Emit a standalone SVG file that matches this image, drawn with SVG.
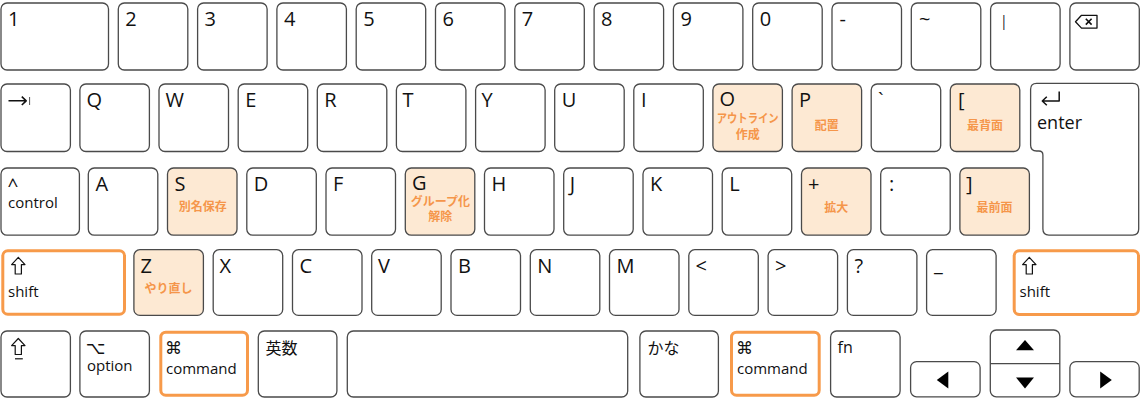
<svg xmlns="http://www.w3.org/2000/svg" width="1141" height="400" viewBox="0 0 1141 400">
<style>
.k{fill:#fff;stroke:#4a4a4a;stroke-width:1.3}
.hl{fill:#fde9d3}
.ol{fill:#fff;stroke:#f79a4a;stroke-width:3}
.t{font-family:"Open Sans","Liberation Sans",sans-serif;font-size:20px;fill:#111}
.s{font-size:15px}
.e{font-size:18px}
.sym{font-family:"DejaVu Sans",sans-serif;font-size:17px;fill:#111}
.jp{font-family:"Noto Sans CJK JP",sans-serif;font-size:16px;fill:#111}
.j{font-family:"Noto Sans CJK JP",sans-serif;font-size:12px;font-weight:700;fill:#f5964a;text-anchor:middle}
.ic{fill:none;stroke:#111;stroke-width:1.4;stroke-linejoin:round}
.ar{fill:#fff;stroke:#111;stroke-width:1.2;stroke-linejoin:round}
.tri{fill:#000}
</style>
<rect width="1141" height="400" fill="#fff"/>
<g id="connectors"/>
<!-- Row 1 -->
<g id="key-1"><rect class="k" x="1" y="3" width="107.5" height="67" rx="6"/><text class="t" x="8" y="25.5">1</text></g>
<g id="key-2"><rect class="k" x="118.3" y="3" width="69.5" height="67" rx="6"/><text class="t" x="125.3" y="25.5">2</text></g>
<g id="key-3"><rect class="k" x="197.6" y="3" width="69.5" height="67" rx="6"/><text class="t" x="204.6" y="25.5">3</text></g>
<g id="key-4"><rect class="k" x="276.9" y="3" width="69.5" height="67" rx="6"/><text class="t" x="283.9" y="25.5">4</text></g>
<g id="key-5"><rect class="k" x="356.2" y="3" width="69.5" height="67" rx="6"/><text class="t" x="363.2" y="25.5">5</text></g>
<g id="key-6"><rect class="k" x="435.5" y="3" width="69.5" height="67" rx="6"/><text class="t" x="442.5" y="25.5">6</text></g>
<g id="key-7"><rect class="k" x="514.8" y="3" width="69.5" height="67" rx="6"/><text class="t" x="521.8" y="25.5">7</text></g>
<g id="key-8"><rect class="k" x="594.1" y="3" width="69.5" height="67" rx="6"/><text class="t" x="601.1" y="25.5">8</text></g>
<g id="key-9"><rect class="k" x="673.4" y="3" width="69.5" height="67" rx="6"/><text class="t" x="680.4" y="25.5">9</text></g>
<g id="key-0"><rect class="k" x="752.7" y="3" width="69.5" height="67" rx="6"/><text class="t" x="759.7" y="25.5">0</text></g>
<g id="key-minus"><rect class="k" x="832" y="3" width="69.5" height="67" rx="6"/><text class="t" x="839.5" y="25.5">-</text></g>
<g id="key-tilde"><rect class="k" x="911.3" y="3" width="69.5" height="67" rx="6"/><text class="t" x="919" y="25.5">~</text></g>
<g id="key-bar"><rect class="k" x="990.6" y="3" width="69.5" height="67" rx="6"/><text class="t" x="1000" y="26" style="font-size:14px;fill:#222">|</text></g>
<g id="key-backspace"><rect class="k" x="1069.9" y="3" width="69.4" height="67" rx="6"/>
<path class="ic" style="stroke-width:1.3" d="M1075.5,21.7 L1081.5,15.3 H1097 V28.1 H1081.5 Z"/>
<path class="ic" style="stroke-width:1.6" d="M1085.8,18.8 L1091.6,24.6 M1091.6,18.8 L1085.8,24.6"/></g>
<!-- Row 2 -->
<g id="key-tab"><rect class="k" x="1" y="84" width="69.4" height="67.5" rx="6"/>
<path class="ic" style="stroke-width:1.6" d="M8.5,100.8 H26 M21.8,96.6 L26.2,100.8 L21.8,105"/>
<path class="ic" style="stroke-width:1;stroke:#555" d="M29.6,97 V105"/></g>
<g id="key-q"><rect class="k" x="79.9" y="84" width="69.5" height="67.5" rx="6"/><text class="t" x="86.5" y="106.5">Q</text></g>
<g id="key-w"><rect class="k" x="159" y="84" width="69.5" height="67.5" rx="6"/><text class="t" x="165.5" y="106.5">W</text></g>
<g id="key-e"><rect class="k" x="238.2" y="84" width="69.5" height="67.5" rx="6"/><text class="t" x="245.2" y="106.5">E</text></g>
<g id="key-r"><rect class="k" x="317.3" y="84" width="69.5" height="67.5" rx="6"/><text class="t" x="324.3" y="106.5">R</text></g>
<g id="key-t"><rect class="k" x="396.4" y="84" width="69.5" height="67.5" rx="6"/><text class="t" x="402.4" y="106.5">T</text></g>
<g id="key-y"><rect class="k" x="475.6" y="84" width="69.5" height="67.5" rx="6"/><text class="t" x="481.6" y="106.5">Y</text></g>
<g id="key-u"><rect class="k" x="554.7" y="84" width="69.5" height="67.5" rx="6"/><text class="t" x="561.7" y="106.5">U</text></g>
<g id="key-i"><rect class="k" x="633.8" y="84" width="69.5" height="67.5" rx="6"/><text class="t" x="641" y="106.5">I</text></g>
<g id="key-o"><rect class="k hl" x="712.9" y="84" width="69.5" height="67.5" rx="6"/><text class="t" x="719.5" y="106">O</text>
<text class="j" x="747.7" y="123" textLength="62" lengthAdjust="spacingAndGlyphs">アウトライン</text><text class="j" x="747.7" y="138.5">作成</text></g>
<g id="key-p"><rect class="k hl" x="792.1" y="84" width="69.5" height="67.5" rx="6"/><text class="t" x="799.1" y="106.5">P</text>
<text class="j" x="826.8" y="130">配置</text></g>
<g id="key-grave"><rect class="k" x="871.2" y="84" width="69.5" height="67.5" rx="6"/><text class="t" x="878" y="106.5">`</text></g>
<g id="key-lbracket"><rect class="k hl" x="950.3" y="84" width="69.5" height="67.5" rx="6"/><text class="t" x="958" y="106.5">[</text>
<text class="j" x="985" y="130">最背面</text></g>
<g id="key-enter"><path class="k" d="M1036.6,83.3 H1132.7 Q1138.7,83.3 1138.7,89.3 V229.1 Q1138.7,235.1 1132.7,235.1 H1048.9 Q1042.9,235.1 1042.9,229.1 V155 Q1042.9,151 1038.9,151 H1036.6 Q1030.6,151 1030.6,145 V89.3 Q1030.6,83.3 1036.6,83.3 Z"/>
<path class="ic" style="stroke-width:1.5" d="M1059.2,91.5 V101 H1042.5 M1046.8,96.7 L1042.3,101 L1046.8,105.3"/>
<text class="t e" x="1037" y="128.5">enter</text></g>
<!-- Row 3 -->
<g id="key-control"><rect class="k" x="1" y="168" width="78.4" height="67.2" rx="6"/><text class="t" x="7.5" y="192" style="font-size:19px">^</text><text class="t s" x="8" y="208">control</text></g>
<g id="key-a"><rect class="k" x="88.3" y="168" width="69.5" height="67.2" rx="6"/><text class="t" x="95.5" y="190.5">A</text></g>
<g id="key-s"><rect class="k hl" x="167.5" y="168" width="69.5" height="67.2" rx="6"/><text class="t" x="174.5" y="190.5">S</text>
<text class="j" x="202.8" y="211">別名保存</text></g>
<g id="key-d"><rect class="k" x="246.8" y="168" width="69.5" height="67.2" rx="6"/><text class="t" x="253.8" y="190.5">D</text></g>
<g id="key-f"><rect class="k" x="326" y="168" width="69.5" height="67.2" rx="6"/><text class="t" x="333" y="190.5">F</text></g>
<g id="key-g"><rect class="k hl" x="405.3" y="168" width="69.5" height="67.2" rx="6"/><text class="t" x="412" y="190">G</text>
<text class="j" x="440.3" y="205.5">グループ化</text><text class="j" x="440.3" y="221">解除</text></g>
<g id="key-h"><rect class="k" x="484.5" y="168" width="69.5" height="67.2" rx="6"/><text class="t" x="491.5" y="190.5">H</text></g>
<g id="key-j"><rect class="k" x="563.7" y="168" width="69.5" height="67.2" rx="6"/><text class="t" x="569.7" y="190.5">J</text></g>
<g id="key-k"><rect class="k" x="643" y="168" width="69.5" height="67.2" rx="6"/><text class="t" x="650" y="190.5">K</text></g>
<g id="key-l"><rect class="k" x="722.2" y="168" width="69.5" height="67.2" rx="6"/><text class="t" x="729.2" y="190.5">L</text></g>
<g id="key-plus"><rect class="k hl" x="801.5" y="168" width="69.5" height="67.2" rx="6"/><text class="t" x="808" y="190.5">+</text>
<text class="j" x="836.3" y="212">拡大</text></g>
<g id="key-colon"><rect class="k" x="880.7" y="168" width="69.5" height="67.2" rx="6"/><text class="t" x="889" y="190.5">:</text></g>
<g id="key-rbracket"><rect class="k hl" x="959.9" y="168" width="69.5" height="67.2" rx="6"/><text class="t" x="966" y="190.5">]</text>
<text class="j" x="994.6" y="212">最前面</text></g>
<!-- Row 4 -->
<g id="key-shift-left"><rect class="ol" x="2.8" y="250.8" width="121.7" height="63.4" rx="5"/>
<path class="ar" d="M18.3,257.3 L25,264.6 H21.4 V274 H15.2 V264.6 H11.6 Z"/>
<text class="t s" x="8" y="296.5">shift</text></g>
<g id="key-z"><rect class="k hl" x="133.9" y="249.7" width="69.5" height="65.7" rx="6"/><text class="t" x="140.5" y="272.5">Z</text>
<text class="j" x="168.6" y="293">やり直し</text></g>
<g id="key-x"><rect class="k" x="213.2" y="249.7" width="69.5" height="65.7" rx="6"/><text class="t" x="219.5" y="272.5">X</text></g>
<g id="key-c"><rect class="k" x="292.5" y="249.7" width="69.5" height="65.7" rx="6"/><text class="t" x="299.5" y="272.5">C</text></g>
<g id="key-v"><rect class="k" x="371.7" y="249.7" width="69.5" height="65.7" rx="6"/><text class="t" x="378" y="272.5">V</text></g>
<g id="key-b"><rect class="k" x="451" y="249.7" width="69.5" height="65.7" rx="6"/><text class="t" x="458" y="272.5">B</text></g>
<g id="key-n"><rect class="k" x="530.3" y="249.7" width="69.5" height="65.7" rx="6"/><text class="t" x="537.3" y="272.5">N</text></g>
<g id="key-m"><rect class="k" x="609.5" y="249.7" width="69.5" height="65.7" rx="6"/><text class="t" x="616.5" y="272.5">M</text></g>
<g id="key-lt"><rect class="k" x="688.8" y="249.7" width="69.5" height="65.7" rx="6"/><text class="t" x="695.5" y="272.5">&lt;</text></g>
<g id="key-gt"><rect class="k" x="768.1" y="249.7" width="69.5" height="65.7" rx="6"/><text class="t" x="775" y="272.5">&gt;</text></g>
<g id="key-question"><rect class="k" x="847.4" y="249.7" width="69.5" height="65.7" rx="6"/><text class="t" x="854.5" y="272.5">?</text></g>
<g id="key-underscore"><rect class="k" x="926.6" y="249.7" width="69.5" height="65.7" rx="6"/><text class="t" x="934" y="270.5">_</text></g>
<g id="key-shift-right"><rect class="ol" x="1014.2" y="250.8" width="124.3" height="63.7" rx="5"/>
<path class="ar" d="M1029.3,257.3 L1036,264.6 H1032.4 V274 H1026.2 V264.6 H1022.6 Z"/>
<text class="t s" x="1019.5" y="296.5">shift</text></g>
<!-- Row 5 -->
<g id="key-fn-shift"><rect class="k" x="1" y="331" width="69.4" height="66" rx="6"/>
<path class="ar" d="M18.3,338.5 L25,345.6 H21.4 V354.5 H15.2 V345.6 H11.6 Z"/>
<path class="ic" style="stroke-width:1.2" d="M15,358.8 H22.8"/></g>
<g id="key-option"><rect class="k" x="79.9" y="331" width="69.5" height="66" rx="6"/>
<text class="sym" x="86" y="354">⌥</text><text class="t s" x="87" y="371">option</text></g>
<g id="key-command-left"><rect class="ol" x="160.8" y="332.2" width="86.7" height="63" rx="5"/>
<text class="sym" x="165" y="354">⌘</text><text class="t s" x="166" y="373.5">command</text></g>
<g id="key-eisu"><rect class="k" x="258.3" y="331" width="78.6" height="66" rx="6"/><text class="jp" x="265.5" y="354">英数</text></g>
<g id="key-space"><rect class="k" x="347.3" y="331" width="280.4" height="66" rx="6"/></g>
<g id="key-kana"><rect class="k" x="639.9" y="331" width="78.5" height="66" rx="6"/><text class="jp" x="647.5" y="354">かな</text></g>
<g id="key-command-right"><rect class="ol" x="731.5" y="332.2" width="87.7" height="63" rx="5"/>
<text class="sym" x="736" y="353.5">⌘</text><text class="t s" x="737" y="373.5">command</text></g>
<g id="key-fn"><rect class="k" x="830.6" y="331" width="69.5" height="66" rx="6"/><text class="t" x="837.5" y="353" style="font-size:16px">fn</text></g>
<g id="key-left"><rect class="k" x="910.6" y="361.6" width="69.5" height="35.2" rx="6"/><path class="tri" d="M936.8,380 L948.3,371.6 V388.4 Z"/></g>
<g id="key-updown"><rect class="k" x="990.3" y="330" width="69.5" height="66.8" rx="6"/>
<path class="k" style="fill:none" d="M990.3,363.6 H1059.8"/>
<path class="tri" d="M1025,340 L1034,350.2 H1016 Z"/>
<path class="tri" d="M1025,388.4 L1034,377.4 H1016 Z"/></g>
<g id="key-right"><rect class="k" x="1069.9" y="361.6" width="69.3" height="35.2" rx="6"/><path class="tri" d="M1111.8,380 L1100.2,371.6 V388.4 Z"/></g>
</svg>
